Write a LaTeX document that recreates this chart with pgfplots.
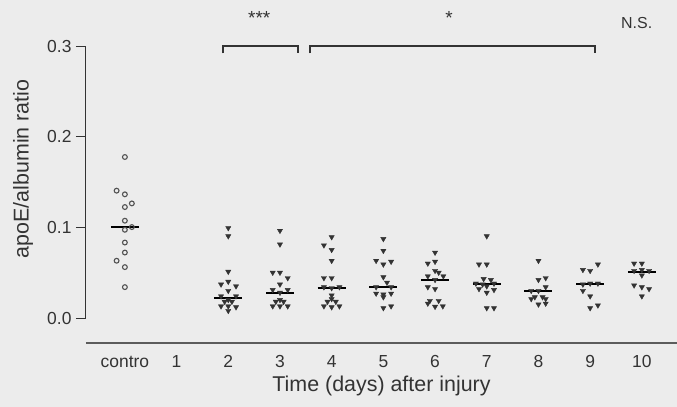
\documentclass[border=0pt]{standalone}
\usepackage{fontspec}
\setmainfont{Liberation Sans}
\usepackage{pgfplots}
\pgfplotsset{compat=1.18}
\definecolor{paper}{HTML}{ECECEC}
\definecolor{ink}{HTML}{333333}

\begin{document}
\begin{tikzpicture}
% paper background
\fill[paper] (-86bp,-64bp) rectangle (591bp,343bp);
\begin{axis}[
  at={(0,0)}, anchor=south west,
  scale only axis, width=591bp, height=297bp,
  xmin=-0.752, xmax=10.68, ymin=-0.0264, ymax=0.3,
  clip=false,
  axis line style={draw=none},
  /pgf/number format/assume math mode=true,
  xtick={0,...,10},
  xticklabels={contro,1,2,3,4,5,6,7,8,9,10},
  xtick style={draw=none},
  ytick={0,0.1,0.2,0.3},
  yticklabels={0.0,0.1,0.2,0.3},
  ytick pos=left, xtick pos=bottom, tick align=outside,
  major tick length=10bp,
  ytick style={ink, line width=1bp},
  ticklabel style={font=\fontsize{17.5}{20}\selectfont, text=ink},
  xticklabel style={anchor=base, yshift=-14.5bp},
  yticklabel style={anchor=east, xshift=-1bp},
  xlabel={Time (days) after injury},
  ylabel={apoE/albumin ratio},
  every axis x label/.style={at={(axis description cs:0.5,-0.145)}, anchor=center,
    font=\fontsize{21.5}{24}\selectfont, text=ink},
  every axis y label/.style={at={(axis description cs:-0.1066,0.586)}, anchor=center, rotate=90,
    font=\fontsize{21.5}{24}\selectfont, text=ink},
]
% axis lines
\draw[ink, line width=1bp] (axis cs:-0.752,0) -- (axis cs:-0.752,0.3);
\draw[ink!80, line width=1.4bp] (axis cs:-0.752,-0.0264) -- (axis cs:10.68,-0.0264);

% control group
\addplot[only marks, mark=o, mark size=2.4bp, mark options={draw=ink!85, line width=1.1bp}]
coordinates {(0,0.178) (-0.16,0.141) (0,0.137) (0,0.123) (0.135,0.127) (0,0.108)
  (0.135,0.101) (0,0.098) (0,0.084) (0,0.073) (-0.16,0.064) (0,0.057) (0,0.035)};

% injured groups, days 2-10
\pgfplotsset{tri/.style={only marks, mark=triangle*, mark size=3bp,
  mark options={rotate=180, fill=ink, draw=ink, line width=0.4bp}}}
\addplot[tri] coordinates {(2,0.100) (2,0.091) (2,0.052) (2,0.041) (1.86,0.038) (2.15,0.036)
  (2,0.031) (1.86,0.025) (2.15,0.025) (2,0.021) (1.93,0.019) (2.07,0.019) (1.86,0.014)
  (2,0.014) (2.15,0.013) (2,0.009)};
\addplot[tri] coordinates {(3,0.097) (3,0.082) (2.86,0.051) (3,0.051) (3.15,0.045) (3,0.038)
  (2.86,0.032) (3.15,0.032) (3,0.029) (3,0.021) (2.92,0.019) (3.07,0.019) (2.86,0.014)
  (3,0.014) (3.15,0.014)};
\addplot[tri] coordinates {(4,0.090) (3.85,0.081) (4,0.076) (4,0.064) (3.85,0.045) (4,0.045)
  (3.85,0.035) (4,0.034) (4.15,0.035) (4,0.026) (4,0.022) (3.92,0.019) (4.08,0.019)
  (3.85,0.014) (4,0.013) (4.15,0.014)};
\addplot[tri] coordinates {(5,0.088) (5,0.075) (4.86,0.064) (5,0.060) (5.15,0.063) (5,0.046)
  (5.07,0.040) (4.86,0.035) (5.15,0.035) (4.86,0.028) (5,0.027) (5.15,0.028) (5,0.024)
  (5,0.012) (5.15,0.014)};
\addplot[tri] coordinates {(6,0.073) (5.86,0.061) (6,0.063) (6,0.053) (6.07,0.051) (5.86,0.047)
  (6.16,0.047) (6,0.043) (5.86,0.035) (6,0.033) (5.9,0.020) (6.07,0.020) (5.86,0.017)
  (6,0.0135) (6.15,0.014)};
\addplot[tri] coordinates {(7,0.091) (6.85,0.060) (7,0.060) (6.94,0.044) (7.08,0.043) (6.79,0.039)
  (6.92,0.038) (7.14,0.039) (7,0.036) (7.14,0.032) (6.85,0.033) (7,0.029) (7,0.012) (7.14,0.012)};
\addplot[tri] coordinates {(8,0.064) (8,0.043) (8.14,0.045) (8.14,0.035) (7.86,0.031) (8,0.031)
  (7.86,0.022) (7.93,0.024) (8.08,0.024) (8.14,0.022) (8,0.016) (8.14,0.017)};
\addplot[tri] coordinates {(9.15,0.060) (8.86,0.054) (9,0.053) (8.86,0.038) (9,0.039) (9.15,0.039)
  (8.86,0.031) (9,0.025) (9.15,0.015) (9,0.012)};
\addplot[tri] coordinates {(9.85,0.061) (10,0.061) (9.85,0.053) (10,0.054) (10.14,0.053) (10,0.048)
  (9.85,0.037) (10,0.035) (10.14,0.033) (10,0.025)};

% group medians
\pgfplotsset{med/.style={black, line width=2bp, mark=none}}
\addplot[med] coordinates {(-0.27,0.101) (0.27,0.101)};
\addplot[med] coordinates {(1.73,0.0234) (2.27,0.0234)};
\addplot[med] coordinates {(2.73,0.029) (3.27,0.029)};
\addplot[med] coordinates {(3.73,0.034) (4.27,0.034)};
\addplot[med] coordinates {(4.73,0.035) (5.27,0.035)};
\addplot[med] coordinates {(5.73,0.043) (6.27,0.043)};
\addplot[med] coordinates {(6.73,0.038) (7.27,0.038)};
\addplot[med] coordinates {(7.73,0.031) (8.27,0.031)};
\addplot[med] coordinates {(8.73,0.038) (9.27,0.038)};
\addplot[med] coordinates {(9.73,0.052) (10.27,0.052)};

% significance brackets
\draw[ink, line width=1.4bp] (axis cs:1.90,0.292) -- (axis cs:1.90,0.300) -- (axis cs:3.35,0.300) -- (axis cs:3.35,0.292);
\draw[ink, line width=1.4bp] (axis cs:3.58,0.292) -- (axis cs:3.58,0.300) -- (axis cs:9.09,0.300) -- (axis cs:9.09,0.292);
\node[font=\fontsize{19}{21}\selectfont, text=ink, anchor=base] at (axis cs:2.6,0.3237) {***};
\node[font=\fontsize{19}{21}\selectfont, text=ink, anchor=base] at (axis cs:6.27,0.3237) {*};
\node[font=\fontsize{16}{18}\selectfont, text=ink, anchor=center] at (axis cs:9.9,0.325) {N.S.};
\end{axis}
\pgfresetboundingbox
\path[use as bounding box] (-86bp,-64bp) rectangle (591bp,343bp);
\end{tikzpicture}
\end{document}
